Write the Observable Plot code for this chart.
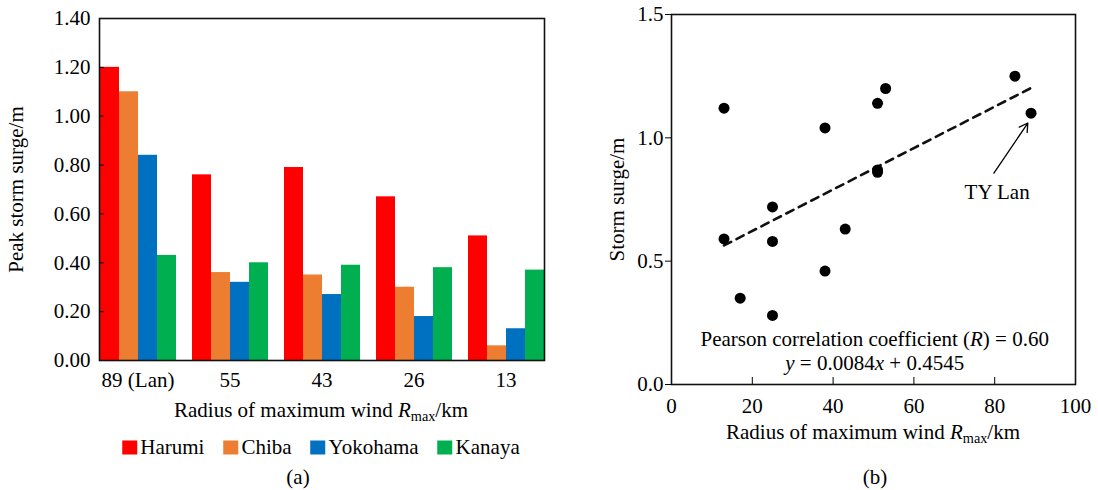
<!DOCTYPE html>
<html><head><meta charset="utf-8">
<script src="https://cdn.jsdelivr.net/npm/d3@7"></script>
<script src="https://cdn.jsdelivr.net/npm/@observablehq/plot@0.6"></script>
<style>
html,body{margin:0;padding:0;background:#fff;}
#root{position:relative;width:1098px;height:490px;overflow:hidden;font-family:"Liberation Serif","Times New Roman",serif;font-size:21px;color:#000;}
.abs{position:absolute;white-space:nowrap;transform:translate(-50%,-50%);line-height:1;}
.sub{font-size:0.68em;position:relative;top:0.3em;}
.panel{position:absolute;top:0;}
.legend{display:flex;align-items:center;}
.legend .item{display:flex;align-items:center;margin-right:19px;}
.legend .item:last-child{margin-right:0;}
.legend .sw{width:15px;height:14px;margin-right:3px;}
</style></head>
<body><div id="root"></div>
<script>
// ---------- Panel (a): grouped bars ----------
const categories = ["89 (Lan)", "55", "43", "26", "13"];
const stations = ["Harumi", "Chiba", "Yokohama", "Kanaya"];
const harumi   = [1.20, 0.76, 0.79, 0.67, 0.51];
const chiba    = [1.10, 0.36, 0.35, 0.30, 0.06];
const yokohama = [0.84, 0.32, 0.27, 0.18, 0.13];
const kanaya   = [0.43, 0.40, 0.39, 0.38, 0.37];
const stationColors = ["#ff0000", "#ed7d31", "#0070c0", "#00b050"];
const barTicks = [0, 0.2, 0.4, 0.6, 0.8, 1.0, 1.2, 1.4];

// ---------- Panel (b): scatter ----------
const rmax  = [13, 85, 53, 51, 38, 89, 51, 51, 25, 43, 13, 25, 38, 17, 25];
const surge = [1.12, 1.25, 1.20, 1.14, 1.04, 1.10, 0.87, 0.86, 0.72, 0.63, 0.59, 0.58, 0.46, 0.35, 0.28];
const scatterXTicks = [0, 20, 40, 60, 80, 100];
const scatterYTicks = [0, 0.5, 1.0, 1.5];
const fitSlope = 0.0084, fitIntercept = 0.4545;
const arrowX1 = [79.8], arrowY1 = [0.857], arrowX2 = [88.2], arrowY2 = [1.06];
const noteText = ["TY Lan", "Pearson correlation coefficient (R) = 0.60", "y = 0.0084x + 0.4545"];
const noteX = [80.6, 50.3, 50.3];
const noteY = [0.78, 0.183, 0.088];
const italicParts = {
  "Pearson correlation coefficient (R) = 0.60": [["Pearson correlation coefficient (", 0], ["R", 1], [") = 0.60", 0]],
  "y = 0.0084x + 0.4545": [["y", 1], [" = 0.0084", 0], ["x", 1], [" + 0.4545", 0]]
};

const font = '"Liberation Serif","Times New Roman",serif';
const series = [harumi, chiba, yokohama, kanaya];
const rows = categories.flatMap((c, i) => stations.map((s, j) => ({category: c, station: s, value: series[j][i]})));

const root = document.getElementById("root");

const left = Plot.plot({
  width: 560, height: 395,
  marginLeft: 90, marginRight: 7, marginTop: 18, marginBottom: 35,
  style: {fontFamily: font, fontSize: "21px", color: "#000", background: "transparent", overflow: "visible"},
  fx: {domain: categories, paddingInner: 0.16, paddingOuter: 0.08, label: null},
  x: {domain: stations, padding: 0, axis: null},
  y: {domain: [0, 1.4]},
  color: {domain: stations, range: stationColors},
  marks: [
    Plot.barY(rows, {fx: "category", x: "station", y: "value", fill: "station"}),
    Plot.axisY(barTicks, {tickSize: -5, tickPadding: 14, tickFormat: d3.format(".2f"), label: "Peak storm surge/m", labelArrow: "none", labelAnchor: "center", labelOffset: 91}),
    Plot.axisFx({anchor: "bottom", tickSize: 0, tickPadding: 12, label: null}),
    Plot.frame({facet: "super", stroke: "#111", strokeWidth: 1.6})
  ]
});
const lw = document.createElement("div"); lw.className = "panel"; lw.style.left = "0px";
lw.appendChild(left); root.appendChild(lw);

const points = rmax.map((x, i) => ({x, y: surge[i]}));
const xExt = d3.extent(rmax);
const fitLine = xExt.map(x => ({x, y: fitSlope * x + fitIntercept}));
const arrows = arrowX1.map((x1, i) => ({x1, y1: arrowY1[i], x2: arrowX2[i], y2: arrowY2[i]}));
const notes = noteText.map((t, i) => ({t, x: noteX[i], y: noteY[i]}));

const right = Plot.plot({
  width: 538, height: 415,
  marginLeft: 111, marginRight: 23, marginTop: 14, marginBottom: 31,
  style: {fontFamily: font, fontSize: "21px", color: "#000", background: "transparent", overflow: "visible"},
  x: {domain: [0, 100]},
  y: {domain: [0, 1.5]},
  marks: [
    Plot.line(fitLine, {x: "x", y: "y", stroke: "#111", strokeWidth: 2.6, strokeDasharray: "8,6"}),
    Plot.dot(points, {x: "x", y: "y", r: 5.5, fill: "#000", stroke: "none"}),
    Plot.arrow(arrows, {x1: "x1", y1: "y1", x2: "x2", y2: "y2", stroke: "#000", strokeWidth: 1.3, headLength: 11}),
    Plot.text(notes, {x: "x", y: "y", text: "t", fill: "#000", fontSize: 21, className: "note"}),
    Plot.axisX(scatterXTicks, {tickSize: -7, tickPadding: 21, label: null}),
    Plot.axisY(scatterYTicks, {tickSize: 6, tickPadding: 2, tickFormat: d3.format(".1f"), label: "Storm surge/m", labelArrow: "none", labelAnchor: "center", labelOffset: 62}),
    Plot.frame({stroke: "#111", strokeWidth: 1.6})
  ]
});
right.querySelectorAll("g.note text").forEach(t => {
  const parts = italicParts[t.textContent];
  if (!parts) return;
  t.textContent = "";
  parts.forEach(([s, it]) => {
    const ts = document.createElementNS("http://www.w3.org/2000/svg", "tspan");
    ts.textContent = s;
    if (it) ts.setAttribute("font-style", "italic");
    t.appendChild(ts);
  });
});
const rw = document.createElement("div"); rw.className = "panel"; rw.style.left = "560px";
rw.appendChild(right); root.appendChild(rw);

function addText(html, x, y) {
  const d = document.createElement("div");
  d.className = "abs"; d.style.left = x + "px"; d.style.top = y + "px";
  d.innerHTML = html; root.appendChild(d);
}
const xTitle = 'Radius of maximum wind <i>R</i><span class="sub">max</span>/km';
addText(xTitle, 321, 410);
addText(xTitle, 873, 432);
addText("(a)", 298, 477);
addText("(b)", 875, 477);

const lg = document.createElement("div");
lg.className = "abs legend"; lg.style.left = "321px"; lg.style.top = "447px";
stations.forEach((s, i) => {
  const it = document.createElement("div"); it.className = "item";
  const sw = document.createElement("div"); sw.className = "sw"; sw.style.background = stationColors[i];
  const tx = document.createElement("span"); tx.textContent = s;
  it.appendChild(sw); it.appendChild(tx); lg.appendChild(it);
});
root.appendChild(lg);
</script>
</body></html>
